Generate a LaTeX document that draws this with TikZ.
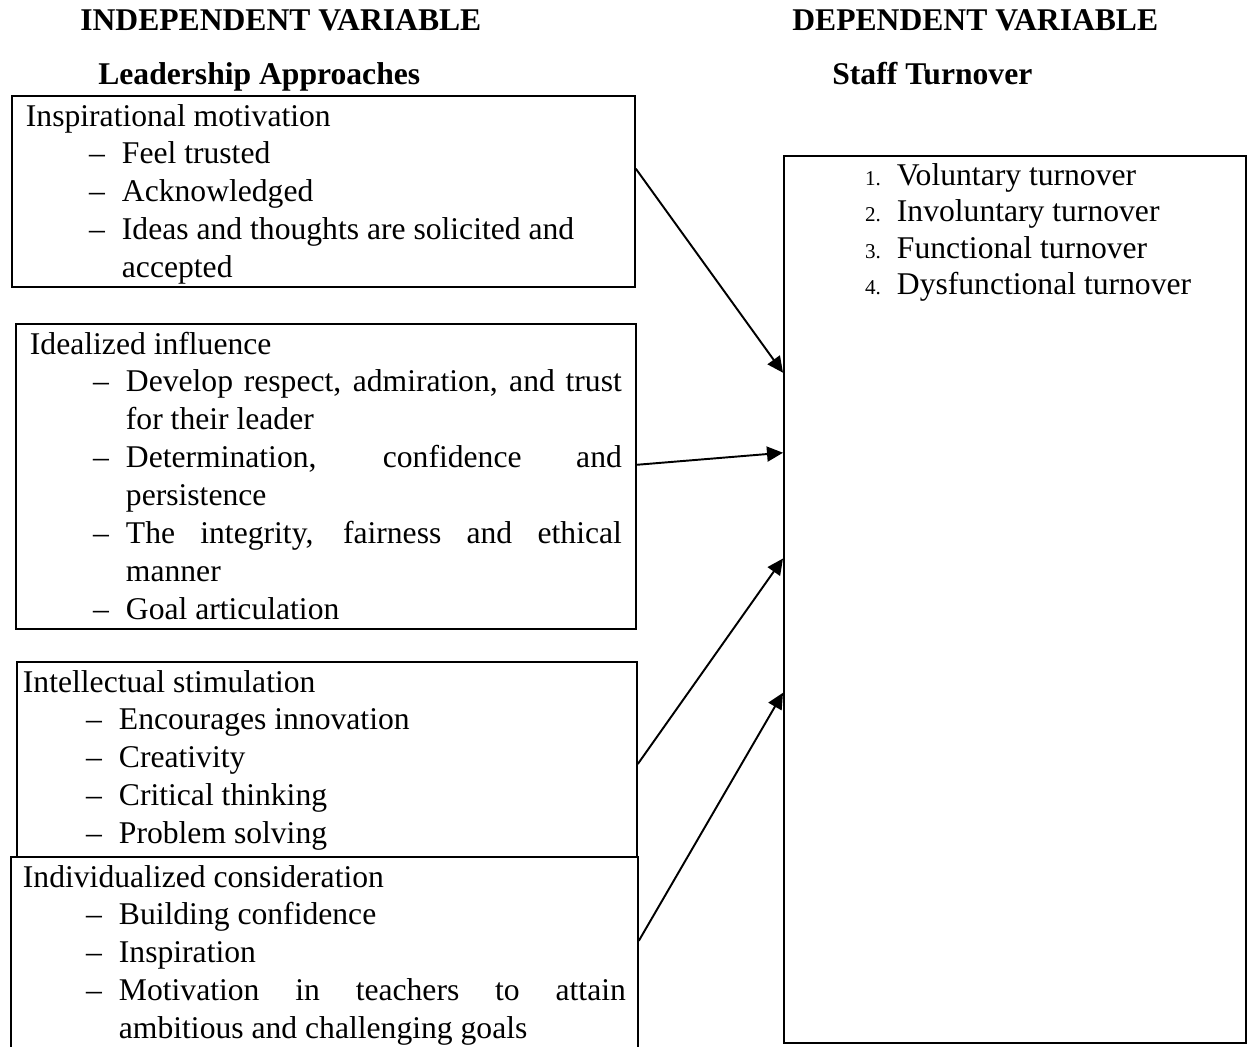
\documentclass[tikz,border=0pt]{standalone}
\usepackage{fontspec}
\setmainfont{Liberation Serif}
\usetikzlibrary{arrows.meta, calc}

% no hyphenation, Word-like justified lines
\hyphenpenalty=10000
\exhyphenpenalty=10000
\tolerance=9999

% dash list inside the left boxes
\newenvironment{dashlist}{%
  \begin{list}{--}{%
    \setlength{\leftmargin}{1.92cm}%
    \setlength{\labelsep}{0.34cm}%
    \setlength{\labelwidth}{1.58cm}%
    \setlength{\itemindent}{0pt}%
    \setlength{\itemsep}{0pt}\setlength{\parsep}{0pt}%
    \setlength{\topsep}{0pt}\setlength{\partopsep}{0pt}}}%
  {\end{list}}

% numbered list inside the turnover box
\newcounter{turnitem}
\newenvironment{numlist}{%
  \begin{list}{\fontsize{12pt}{14pt}\selectfont\arabic{turnitem}.}{%
    \usecounter{turnitem}%
    \setlength{\leftmargin}{1.98cm}%
    \setlength{\labelsep}{0.32cm}%
    \setlength{\labelwidth}{1.66cm}%
    \setlength{\itemindent}{0pt}%
    \setlength{\itemsep}{0pt}\setlength{\parsep}{0pt}%
    \setlength{\topsep}{0pt}\setlength{\partopsep}{0pt}}}%
  {\end{list}}

\tikzset{
  % bold column headings
  headline/.style={
    font=\fontsize{18pt}{21.6pt}\selectfont\bfseries,
    anchor=base west, inner sep=0pt
  },
  % framed box with a list
  factor/.style={
    draw, line width=1.1pt, anchor=north west,
    inner xsep=0.28cm, inner ysep=2pt,
    font=\fontsize{18pt}{21.6pt}\selectfont
  },
  % arrow from a factor to the outcome box
  link/.style={
    -{Triangle[length=0.32cm, width=0.30cm]}, line width=1.1pt
  }
}

\begin{document}
\begin{tikzpicture}[x=0.02cm, y=-0.02cm]
  \useasboundingbox (0,0) rectangle (1251,1047);

  % ── HEADINGS ─────────────────────────────────────────────────────────────
  \node[headline] (indep) at (80,31) {INDEPENDENT VARIABLE};
  \node[headline] (dep)   at (792,31) {DEPENDENT VARIABLE};
  \node[headline] (lead)  at (98,85) {Leadership Approaches};
  \node[headline] (staff) at (832,85) {Staff Turnover};

  % ── LEFT COLUMN: leadership approaches ───────────────────────────────────
  \node[factor] (insp) at (11,95) {%
    \begin{minipage}[t][3.68cm][t]{11.90cm}\raggedright
      \strut Inspirational motivation
      \begin{dashlist}
        \item Feel trusted
        \item Acknowledged
        \item Ideas and thoughts are solicited and accepted
      \end{dashlist}
    \end{minipage}};

  \node[factor] (ideal) at (15,323) {%
    \begin{minipage}[t][5.96cm][t]{11.84cm}
      \strut Idealized influence
      \begin{dashlist}
        \item Develop respect, admiration, and trust\linebreak for their leader
        \item Determination, confidence and\linebreak persistence
        \item The integrity, fairness and ethical\linebreak manner
        \item Goal articulation
      \end{dashlist}
    \end{minipage}};

  \node[factor, inner xsep=0.12cm] (intel) at (16,661) {%
    \begin{minipage}[t][3.76cm][t]{12.16cm}\raggedright
      \strut Intellectual stimulation
      \begin{dashlist}
        \item Encourages innovation
        \item Creativity
        \item Critical thinking
        \item Problem solving
      \end{dashlist}
    \end{minipage}};

  \node[factor, inner xsep=0.24cm] (indiv) at (10,856) {%
    \begin{minipage}[t][3.72cm][t]{12.06cm}
      \strut Individualized consideration
      \begin{dashlist}
        \item Building confidence
        \item Inspiration
        \item Motivation in teachers to attain\linebreak ambitious and challenging goals
      \end{dashlist}
    \end{minipage}};

  % ── RIGHT COLUMN: staff turnover ─────────────────────────────────────────
  \node[factor, font=\fontsize{18pt}{20.8pt}\selectfont] (turn) at (783,155) {%
    \begin{minipage}[t][17.60cm][t]{8.68cm}\raggedright
      \begin{numlist}
        \item \strut Voluntary turnover
        \item Involuntary turnover
        \item Functional turnover
        \item Dysfunctional turnover
      \end{numlist}
    \end{minipage}};

  % ── ARROWS ───────────────────────────────────────────────────────────────
  \draw[link] ($(insp.north east)!0.382!(insp.south east)$)
           -- ($(turn.north west)!0.245!(turn.south west)$);
  \draw[link] ($(ideal.north east)!0.462!(ideal.south east)$)
           -- ($(turn.north west)!0.335!(turn.south west)$);
  \draw[link] ($(intel.north east)!0.523!(intel.south east)$)
           -- ($(turn.north west)!0.454!(turn.south west)$);
  \draw[link] ($(indiv.north east)!0.435!(indiv.south east)$)
           -- ($(turn.north west)!0.605!(turn.south west)$);

\end{tikzpicture}
\end{document}
